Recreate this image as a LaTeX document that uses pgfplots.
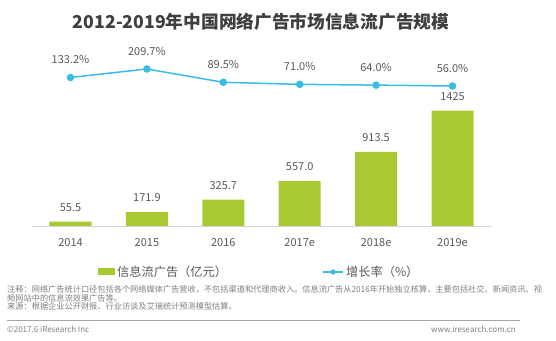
\documentclass[border=0pt]{standalone}
\usepackage{fontspec}
\setmainfont{Noto Sans CJK SC}
\usepackage{pgfplots}
\pgfplotsset{compat=1.18}
\definecolor{barg}{HTML}{A9C932}
\definecolor{lineb}{HTML}{38BDE6}
\definecolor{txt}{HTML}{595959}
\definecolor{ttl}{HTML}{3F3F3F}
\definecolor{note}{HTML}{7F7F7F}
\begin{document}
\begin{tikzpicture}[x=1pt,y=1pt]
\useasboundingbox (0,0) rectangle (556,340);
\begin{axis}[at={(32.3pt,114pt)}, anchor=south west, scale only axis,
  width=458.4pt, height=166pt, xmin=-0.5, xmax=5.5, ymin=0, ymax=2049,
  clip=false,
  axis x line*=bottom, axis y line=none,
  x axis line style={draw=black!18, -, line width=0.8pt},
  xtick={0,1,2,3,4,5}, xticklabels={2014,2015,2016,2017e,2018e,2019e},
  major tick length=0pt,
  xticklabel style={font=\fontsize{11}{11}\selectfont, text=txt, anchor=center, yshift=-17pt},
  ybar, bar width=42pt, bar shift=0pt,
  nodes near coords, point meta=explicit symbolic,
  every node near coord/.append style={font=\fontsize{11}{11}\selectfont, text=txt, anchor=center, yshift=14pt}]
\addplot[fill=barg, draw=none] coordinates {(0,55.5)[55.5] (1,171.9)[171.9] (2,325.7)[325.7] (3,557.0)[557.0] (4,913.5)[913.5] (5,1425)[1425]};
\end{axis}
\begin{axis}[at={(32.3pt,114pt)}, anchor=south west, scale only axis,
  width=458.4pt, height=166pt, xmin=-0.5, xmax=5.5, ymin=-1209.8, ymax=291.1,
  clip=false, hide axis,
  nodes near coords, point meta=explicit symbolic,
  every node near coord/.append style={font=\fontsize{11}{11}\selectfont, text=txt, anchor=center, yshift=17.7pt}]
\addplot[lineb, line width=1.5pt, mark=*, mark size=3pt, mark options={fill=lineb, draw=lineb}]
  coordinates {(0,133.2)[133.2\%] (1,209.7)[209.7\%] (2,89.5)[89.5\%] (3,71.0)[71.0\%] (4,64.0)[64.0\%] (5,56.0)[56.0\%]};
\end{axis}
\node[font=\bfseries\fontsize{17.7}{17.7}\selectfont, text=ttl] at (261,318) {2012-2019年中国网络广告市场信息流广告规模};
% legend
\fill[barg] (98.3,65) rectangle (115,71.7);
\node[anchor=west, inner sep=1pt, font=\fontsize{12.2}{12.2}\selectfont, text=txt] at (116,68) {信息流广告（亿元）};
\draw[lineb, line width=1.5pt] (322.7,68) -- (343,68);
\fill[lineb] (333,68) circle (2.6);
\node[anchor=west, inner sep=1pt, font=\fontsize{12.2}{12.2}\selectfont, text=txt] at (345,68) {增长率（\%）};
% notes
\begin{scope}[every node/.style={anchor=west, inner sep=0pt, font=\fontsize{8.2}{8.2}\selectfont, text=note}]
\node at (7,50.8) {注释：网络广告统计口径包括各个网络媒体广告营收，不包括渠道和代理商收入。信息流广告从2016年开始独立核算，主要包括社交、新闻资讯、视};
\node at (7,42) {频网站中的信息流效果广告等。};
\node at (7,33.2) {来源：根据企业公开财报、行业访谈及艾瑞统计预测模型估算。};
\end{scope}
\draw[black!35, line width=1pt] (7,20) -- (520,20);
\node[anchor=west, inner sep=0pt, font=\fontsize{8}{8}\selectfont, text=note] at (7,11) {©2017.6 iResearch Inc};
\node[anchor=east, inner sep=0pt, font=\fontsize{8}{8}\selectfont, text=note] at (516,11) {www.iresearch.com.cn};
\end{tikzpicture}
\end{document}
